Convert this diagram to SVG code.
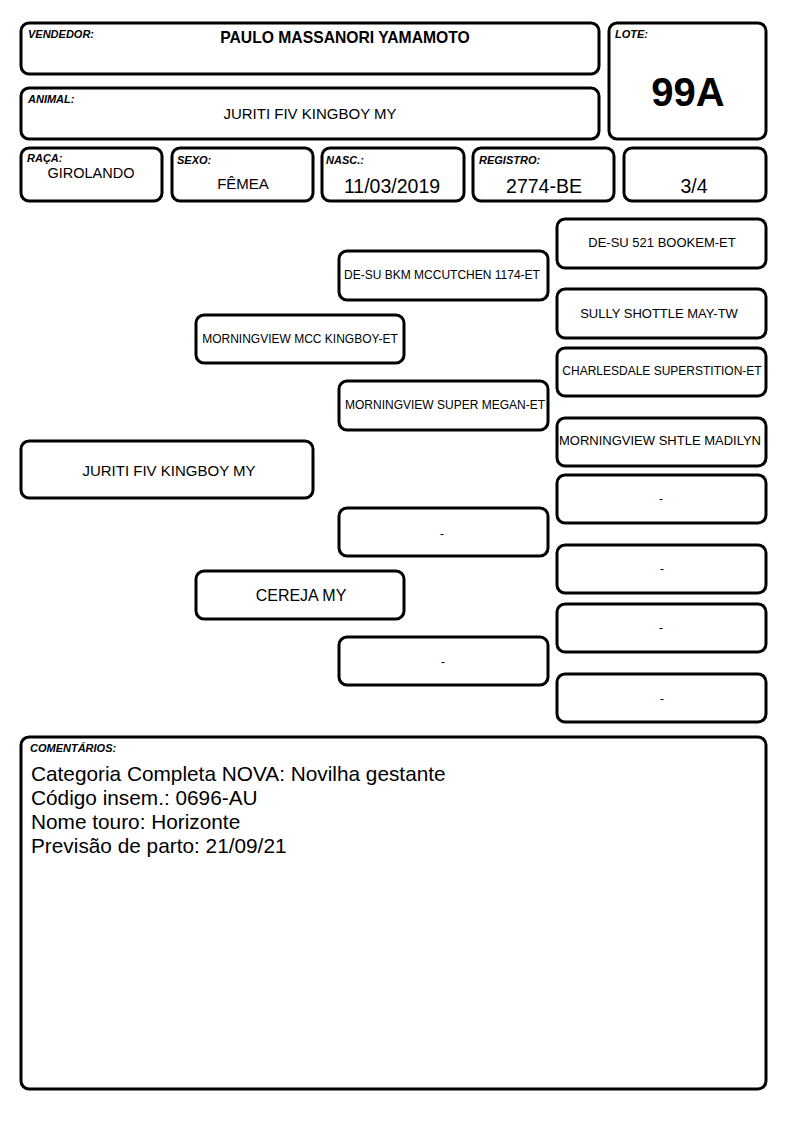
<svg xmlns="http://www.w3.org/2000/svg" width="794" height="1123" viewBox="0 0 794 1123">
<style>
.b{fill:#fff;stroke:#000;stroke-width:3}
.lb{font-family:"Liberation Sans",Arial,sans-serif;font-size:11px;font-weight:bold;font-style:italic;fill:#000}
.t{font-family:"Liberation Sans",Arial,sans-serif;fill:#000;text-anchor:middle}
.p{font-family:"Liberation Sans",Arial,sans-serif;fill:#000;text-anchor:middle;font-size:12px}
.q{font-family:"Liberation Sans",Arial,sans-serif;fill:#000;text-anchor:middle;font-size:13px}
.c{font-family:"Liberation Sans",Arial,sans-serif;fill:#000;font-size:20.8px}
</style>
<rect width="794" height="1123" fill="#fff"/>
<g id="vendedor"><rect class="b" x="21" y="23" width="578" height="51" rx="8"/><text class="lb" x="28" y="38">VENDEDOR:</text><text class="t" x="345" y="43" font-size="15.7" font-weight="bold">PAULO MASSANORI YAMAMOTO</text></g>
<g id="animal"><rect class="b" x="21" y="88" width="578" height="51" rx="8"/><text class="lb" x="28" y="103">ANIMAL:</text><text class="t" x="310" y="119" font-size="15">JURITI FIV KINGBOY MY</text></g>
<g id="lote"><rect class="b" x="609" y="23" width="157" height="116" rx="8"/><text class="lb" x="615" y="38">LOTE:</text><text class="t" x="688" y="106" font-size="40" font-weight="bold">99A</text></g>
<g id="raca"><rect class="b" x="21" y="148" width="141" height="53" rx="8"/><text class="lb" x="27" y="162">RAÇA:</text><text class="t" x="91" y="178" font-size="14.5">GIROLANDO</text></g>
<g id="sexo"><rect class="b" x="172" y="148" width="141" height="53" rx="8"/><text class="lb" x="177" y="164">SEXO:</text><text class="t" x="243" y="189" font-size="15">FÊMEA</text></g>
<g id="nasc"><rect class="b" x="322" y="148" width="142" height="53" rx="8"/><text class="lb" x="326" y="164">NASC.:</text><text class="t" x="392" y="193" font-size="19.5">11/03/2019</text></g>
<g id="registro"><rect class="b" x="473" y="148" width="141" height="53" rx="8"/><text class="lb" x="479" y="164">REGISTRO:</text><text class="t" x="544" y="193" font-size="19.5">2774-BE</text></g>
<g id="grau"><rect class="b" x="624" y="148" width="142" height="53" rx="8"/><text class="t" x="694" y="193" font-size="19.5">3/4</text></g>
<g id="connectors"></g>
<g id="animal-node"><rect class="b" x="21" y="441" width="292" height="57" rx="8"/><text class="t" x="169" y="476" font-size="15">JURITI FIV KINGBOY MY</text></g>
<g id="pai"><rect class="b" x="196" y="315" width="208" height="48" rx="8"/><text class="p" x="300" y="343" font-size="11.7">MORNINGVIEW MCC KINGBOY-ET</text></g>
<g id="mae"><rect class="b" x="196" y="571" width="208" height="48" rx="8"/><text class="t" x="301" y="601" font-size="16">CEREJA MY</text></g>
<g id="avo-pp"><rect class="b" x="339" y="251" width="209" height="49" rx="8"/><text class="p" x="442" y="279">DE-SU BKM MCCUTCHEN 1174-ET</text></g>
<g id="avo-pm"><rect class="b" x="339" y="381" width="209" height="49" rx="8"/><text class="p" x="445" y="409" font-size="11.7">MORNINGVIEW SUPER MEGAN-ET</text></g>
<g id="avo-mp"><rect class="b" x="339" y="508" width="209" height="48" rx="8"/><text class="p" x="442" y="538">-</text></g>
<g id="avo-mm"><rect class="b" x="339" y="637" width="209" height="48" rx="8"/><text class="p" x="443" y="666">-</text></g>
<g id="bis1"><rect class="b" x="557" y="219" width="209" height="49" rx="8"/><text class="q" x="662" y="247">DE-SU 521 BOOKEM-ET</text></g>
<g id="bis2"><rect class="b" x="557" y="289" width="209" height="49" rx="8"/><text class="q" x="659" y="318">SULLY SHOTTLE MAY-TW</text></g>
<g id="bis3"><rect class="b" x="557" y="348" width="209" height="48" rx="8"/><text class="p" x="662" y="375">CHARLESDALE SUPERSTITION-ET</text></g>
<g id="bis4"><rect class="b" x="557" y="418" width="209" height="48" rx="8"/><text class="q" x="660" y="445">MORNINGVIEW SHTLE MADILYN</text></g>
<g id="bis5"><rect class="b" x="557" y="475" width="209" height="48" rx="8"/><text class="p" x="661" y="503">-</text></g>
<g id="bis6"><rect class="b" x="557" y="545" width="209" height="48" rx="8"/><text class="p" x="662" y="573">-</text></g>
<g id="bis7"><rect class="b" x="557" y="604" width="209" height="48" rx="8"/><text class="p" x="661" y="632">-</text></g>
<g id="bis8"><rect class="b" x="557" y="674" width="209" height="48" rx="8"/><text class="p" x="662" y="703">-</text></g>
<g id="comentarios"><rect class="b" x="21" y="737" width="745" height="352" rx="8"/><text class="lb" x="30" y="752">COMENTÁRIOS:</text>
<text class="c" x="31" y="781">Categoria Completa NOVA: Novilha gestante</text>
<text class="c" x="31" y="805">Código insem.: 0696-AU</text>
<text class="c" x="31" y="829">Nome touro: Horizonte</text>
<text class="c" x="31" y="853">Previsão de parto: 21/09/21</text></g>
</svg>
